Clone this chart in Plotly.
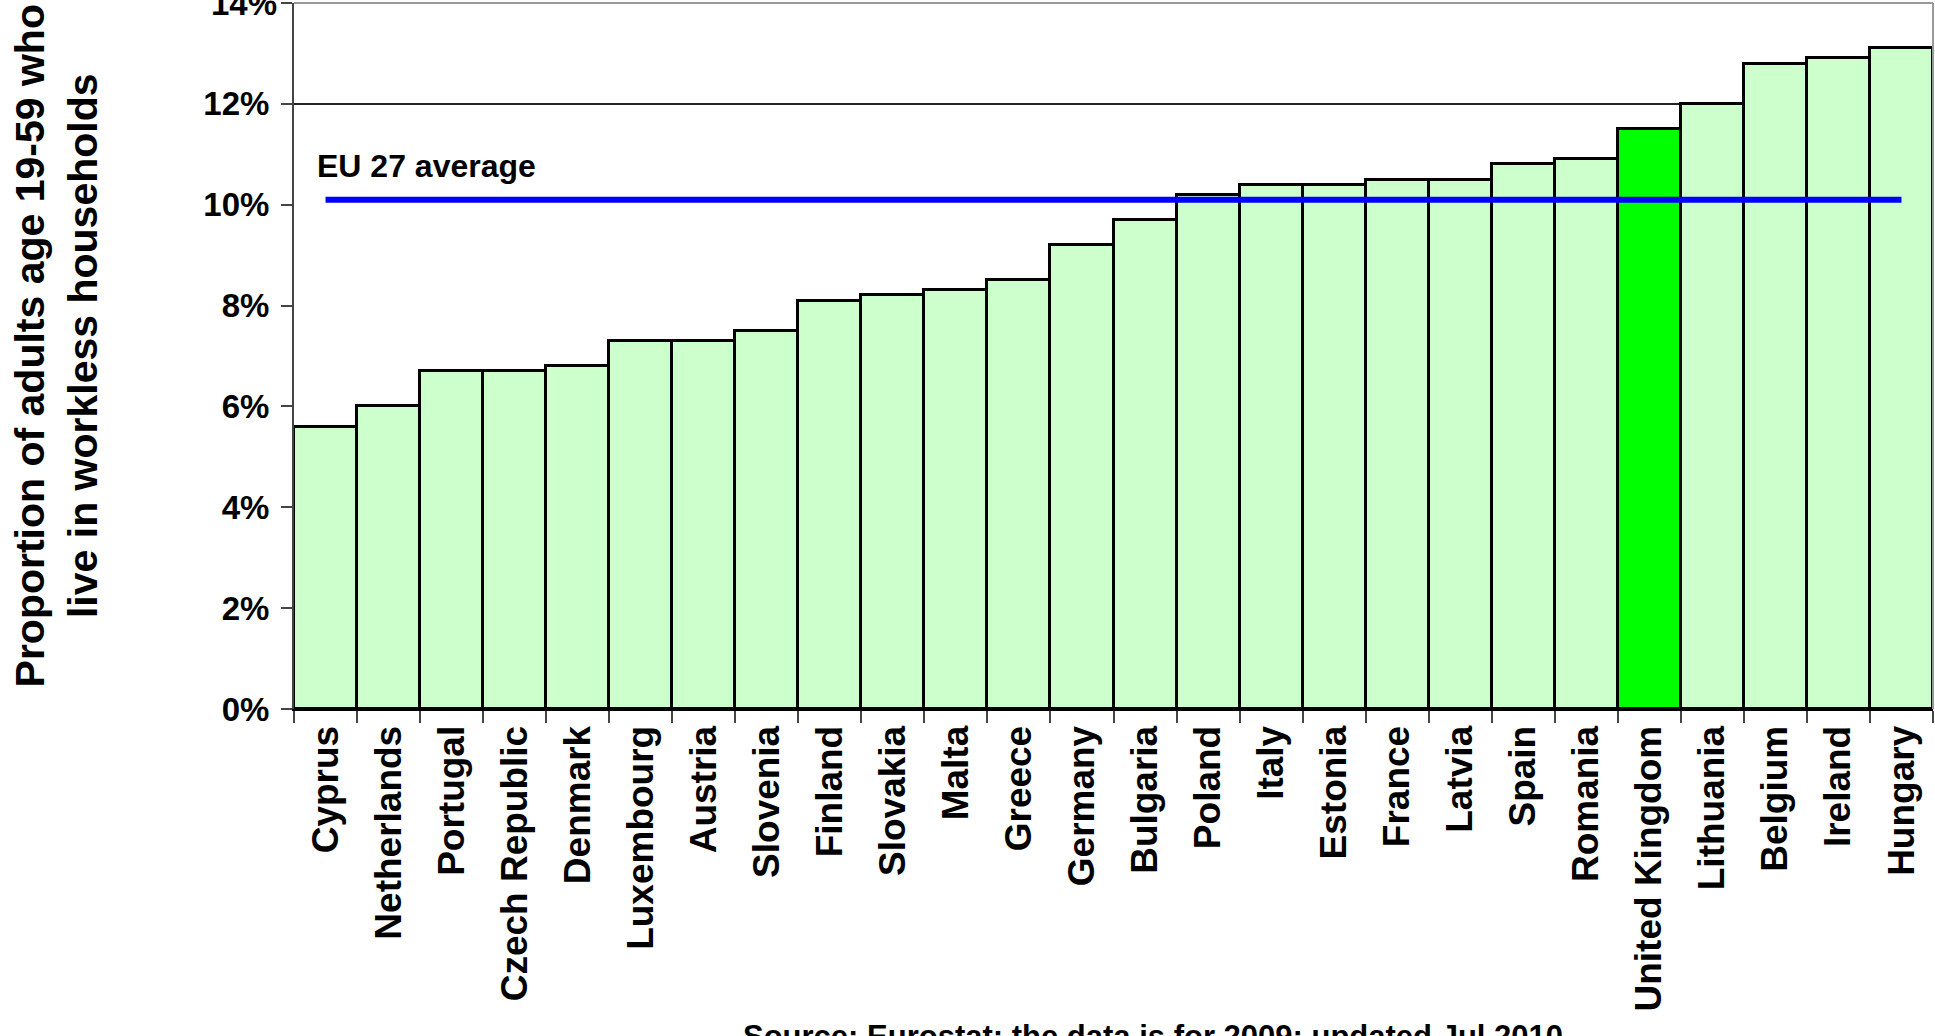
import plotly.graph_objects as go

countries = ["Cyprus", "Netherlands", "Portugal", "Czech Republic", "Denmark", "Luxembourg",
             "Austria", "Slovenia", "Finland", "Slovakia", "Malta", "Greece", "Germany",
             "Bulgaria", "Poland", "Italy", "Estonia", "France", "Latvia", "Spain", "Romania",
             "United Kingdom", "Lithuania", "Belgium", "Ireland", "Hungary"]
values = [5.6, 6.0, 6.7, 6.7, 6.8, 7.3, 7.3, 7.5, 8.1, 8.2, 8.3, 8.5, 9.2,
          9.7, 10.2, 10.4, 10.4, 10.5, 10.5, 10.8, 10.9, 11.5, 12.0, 12.8, 12.9, 13.1]
eu_average = 10.1
highlight = "United Kingdom"
y_ticks = [0, 2, 4, 6, 8, 10, 12, 14]
y_tick_labels = ["0%", "2%", "4%", "6%", "8%", "10%", "12%", "14%"]
grid_values = [12]

FONT = "Liberation Sans, Arial, sans-serif"
TICK_FONT = dict(family=FONT, size=33, color="black", weight="bold")

colors = ["#00FF00" if c == highlight else "#CCFFCC" for c in countries]

fig = go.Figure()
fig.add_trace(go.Bar(
    x=countries, y=values,
    marker=dict(color=colors, line=dict(color="black", width=3)),
    hoverinfo="x+y",
))
fig.add_trace(go.Scatter(
    x=[countries[0], countries[-1]], y=[eu_average, eu_average],
    mode="lines", line=dict(color="#0000FF", width=6),
    hoverinfo="skip",
))
# invisible trace on the overlay axis that only carries the single gridline
fig.add_trace(go.Scatter(x=[countries[0]], y=[grid_values[0]], yaxis="y2",
                         mode="markers", marker=dict(opacity=0), hoverinfo="skip"))

# the top tick label sits on the page edge; draw it as text so it is not dropped
shown_labels = y_tick_labels[:-1] + [""]

fig.update_layout(
    width=1935, height=1036,
    margin=dict(l=294, r=2, t=3, b=327),
    paper_bgcolor="white", plot_bgcolor="white",
    showlegend=False, bargap=0,
    font=dict(family=FONT, color="black"),
    xaxis=dict(
        type="category", automargin=False,
        showline=True, linecolor="black", linewidth=2,
        ticks="outside", tickson="boundaries", ticklen=12, tickcolor="#444", tickwidth=1.5,
        tickangle=-90,
        tickfont=dict(family=FONT, size=37, color="black", weight="bold"),
        showgrid=False,
        range=[-0.5, len(countries) - 0.5],
    ),
    yaxis=dict(
        range=[0, 14], automargin=False,
        tickmode="array", tickvals=y_ticks, ticktext=shown_labels,
        showline=True, linecolor="#444", linewidth=2,
        ticks="outside", ticklen=11, tickcolor="#444", tickwidth=1.5,
        ticklabelstandoff=5,
        tickfont=TICK_FONT,
        showgrid=False, zeroline=False,
    ),
    yaxis2=dict(
        range=[0, 14], overlaying="y", automargin=False,
        tickmode="array", tickvals=grid_values,
        showticklabels=False, ticks="",
        showgrid=True, gridcolor="#222", gridwidth=1.5,
        showline=False, zeroline=False,
    ),
    shapes=[
        dict(type="line", xref="paper", yref="paper", x0=0, x1=1, y0=1, y1=1,
             line=dict(color="#999", width=2)),
        dict(type="line", xref="paper", yref="paper", x0=1, x1=1, y0=0, y1=1,
             line=dict(color="#999", width=2)),
    ],
    annotations=[
        dict(text=y_tick_labels[-1], xref="paper", yref="y",
             x=0, y=y_ticks[-1], xanchor="right", yanchor="middle", xshift=-15,
             showarrow=False, font=TICK_FONT),
        dict(text="EU 27 average", xref="paper", yref="paper",
             x=(315 - 294) / 1639, y=(706 - 165) / 703,
             xanchor="left", yanchor="middle", showarrow=False,
             font=dict(family=FONT, size=32, color="black", weight="bold")),
        dict(text="Proportion of adults age 19-59 who<br>live in workless households",
             xref="paper", yref="paper",
             x=(56 - 294) / 1639, y=(706 - 345) / 703,
             xanchor="center", yanchor="middle", textangle=-90, showarrow=False,
             font=dict(family=FONT, size=41, color="black", weight="bold")),
        dict(text="Source: Eurostat; the data is for 2009; updated Jul 2010",
             xref="paper", yref="paper",
             x=(1153 - 294) / 1639, y=(706 - 1032) / 703,
             xanchor="center", yanchor="middle", showarrow=False,
             font=dict(family=FONT, size=31, color="black", weight="bold")),
    ],
)

fig.write_html("out.html", config={"displayModeBar": False},
               post_script="document.body.style.margin='0';")
